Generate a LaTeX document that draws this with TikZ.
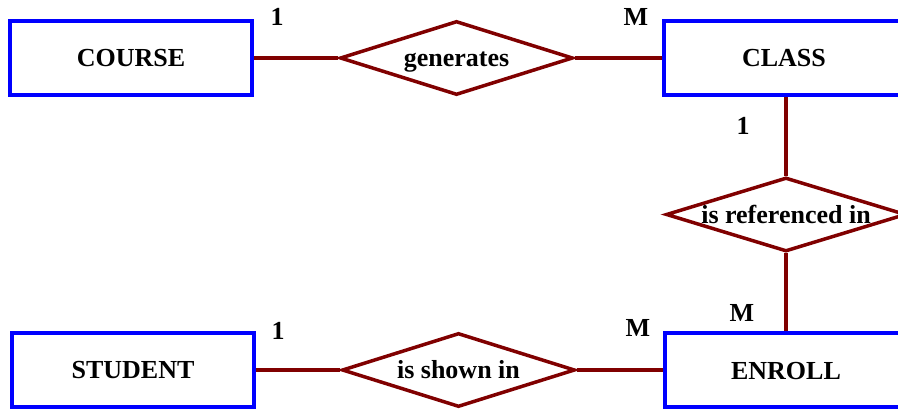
\documentclass[tikz,border=0pt]{standalone}
\usepackage{fontspec}
\setmainfont{Liberation Serif}
\usetikzlibrary{shapes.geometric}

\begin{document}
\begin{tikzpicture}[x=1pt,y=1pt,
	txt/.style={font=\bfseries\fontsize{26}{30}\selectfont, text height=17pt, text depth=0pt},
	entity/.style={txt, draw=blue, line width=4pt, rectangle, minimum width=242pt, minimum height=74pt, inner sep=0pt},
	relation/.style={txt, draw=red!50!black, line width=3.5pt, diamond, shape aspect=3.15, minimum width=233pt, minimum height=74pt, inner sep=0pt},
	link/.style={draw=red!50!black, line width=3.5pt},
	card/.style={font=\bfseries\fontsize{26}{30}\selectfont}]
	\useasboundingbox (0,0) rectangle (898,-410);
	\clip (0,0) rectangle (898,-410);
	\node[entity] (course) at (131,-58) {COURSE};
	\node[entity, minimum width=300pt] (class) at (814,-58) {};
	\node[entity, minimum width=300pt] (enroll) at (815,-370) {};
	\node[txt] (classtxt) at (784,-58) {CLASS};
	\node[txt] (enrolltxt) at (786,-371) {ENROLL};
	\node[entity] (student) at (133,-370) {STUDENT};
	\node[relation] (gen) at (456.5,-58) {generates};
	\node[relation, minimum width=240pt] (ref) at (786,-214.5) {is referenced in};
	\node[relation] (shown) at (458.5,-370) {is shown in};
	\draw[link] (course.east) -- (gen.west);
	\draw[link] (gen.east) -- (class.west);
	\draw[link] (ref.north |- class.south) -- (ref.north);
	\draw[link] (ref.south) -- (ref.south |- enroll.north);
	\draw[link] (student.east) -- (shown.west);
	\draw[link] (shown.east) -- (enroll.west);
	\node[card] (c1) at (277,-17) {1};
	\node[card] (c2) at (636,-17) {M};
	\node[card] (c3) at (743,-126) {1};
	\node[card] (c4) at (742,-313) {M};
	\node[card] (c5) at (278,-331) {1};
	\node[card] (c6) at (638,-328) {M};
\end{tikzpicture}
\end{document}
